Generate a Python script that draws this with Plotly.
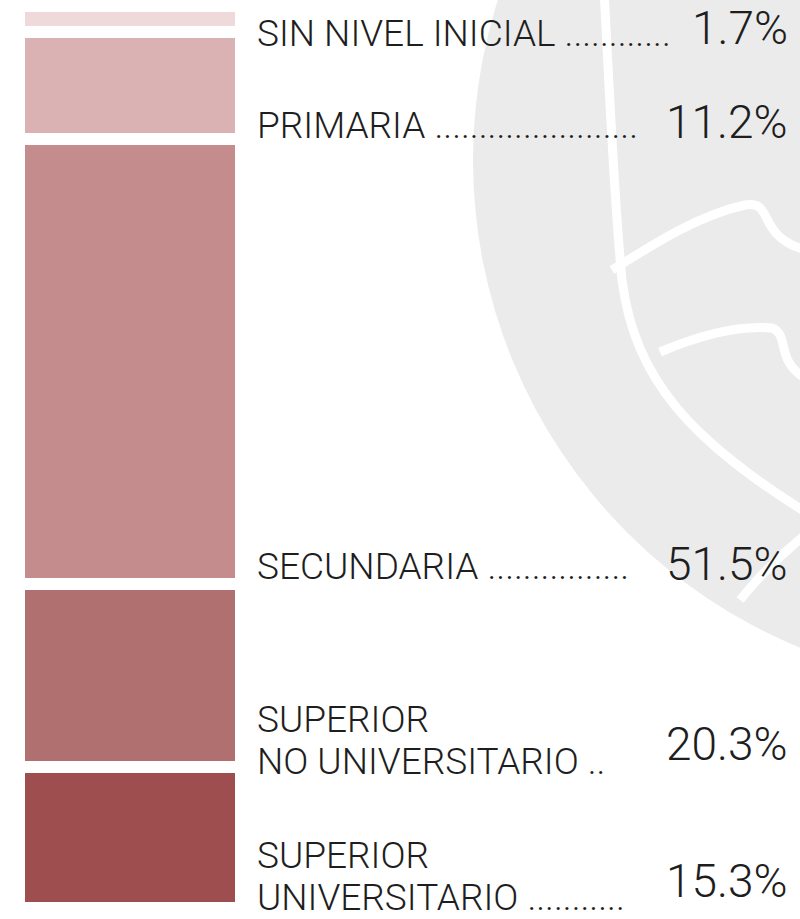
import plotly.graph_objects as go

# Nivel educativo alcanzado (porcentaje)
niveles = ["SIN NIVEL INICIAL", "PRIMARIA", "SECUNDARIA",
           "SUPERIOR<br>NO UNIVERSITARIO", "SUPERIOR<br>UNIVERSITARIO"]
porcentajes = [1.7, 11.2, 51.5, 20.3, 15.3]
puntos = [12, 23, 16, 2, 11]          # leader dots after each label
colores = ["#efd9da", "#dab2b3", "#c48c8c", "#b0706f", "#9e4e4f"]

W, H = 800, 919
L, R, T, B = 25, 565, 12, 17
GAP_PX = 12
LINE_PX = 42
plot_h = H - T - B
unit = (plot_h - GAP_PX * (len(porcentajes) - 1)) / sum(porcentajes)
gap = GAP_PX / unit
total = sum(porcentajes) + gap * (len(porcentajes) - 1)

bases, acc = [], 0.0
for v in porcentajes:
    bases.append(acc)
    acc += v + gap


def px(x):
    return (x - L) / (W - L - R)


def py(y):
    return (H - B - y) / plot_h


fig = go.Figure()
fig.add_trace(go.Bar(
    x=[0] * len(porcentajes), y=porcentajes, base=bases, width=1,
    marker=dict(color=colores, line=dict(width=0)),
    hoverinfo="skip", showlegend=False,
))

# faint seal in the background
SEAL_CX, SEAL_CY, SEAL_R = 1000, 160, 527
shapes = [
    dict(type="circle", xref="paper", yref="paper", layer="below",
         x0=px(SEAL_CX - SEAL_R), x1=px(SEAL_CX + SEAL_R),
         y0=py(SEAL_CY + SEAL_R), y1=py(SEAL_CY - SEAL_R),
         fillcolor="#ebebeb", line=dict(width=0)),
]


def path(pts):
    (x0, y0), rest = pts[0], pts[1:]
    d = f"M {px(x0)},{py(y0)}"
    for i in range(0, len(rest), 3):
        (a, b), (c, e), (f, g) = rest[i:i + 3]
        d += f" C {px(a)},{py(b)} {px(c)},{py(e)} {px(f)},{py(g)}"
    return d


white_lines = [
    [(604, -10), (610, 100), (614, 200), (622, 280),
     (635, 380), (690, 440), (810, 515)],
    [(612, 270), (660, 240), (700, 215), (745, 205),
     (775, 200), (755, 235), (805, 250)],
    [(660, 352), (700, 335), (740, 325), (772, 328),
     (790, 335), (775, 360), (805, 378)],
    [(740, 600), (760, 575), (780, 555), (805, 535)],
]
for pts in white_lines:
    shapes.append(dict(type="path", xref="paper", yref="paper", layer="below",
                       path=path(pts), line=dict(color="white", width=9)))

label_font = dict(family="Roboto, 'Open Sans', sans-serif", size=37,
                  color="#1e1e1e", weight=300)
value_font = dict(family="Roboto, 'Open Sans', sans-serif", size=46,
                  color="#1e1e1e", weight=300)

# vertical offsets (px, downward) of each text's centre from its segment's end
label_off = [7.5, -7.5, -12, -21, -26]
value_off = [1.5, -11, -14, -17.5, -21]

annotations = []
for i, (name, v) in enumerate(zip(niveles, porcentajes)):
    y_end = bases[i] + v
    lines = name.split("<br>")
    lines[-1] += " " + "." * puntos[i]
    n = len(lines)
    for j, line in enumerate(lines):
        off = label_off[i] + (j - (n - 1) / 2) * LINE_PX
        annotations.append(dict(
            x=px(256), xref="paper", y=y_end, yref="y", xanchor="left",
            yanchor="middle", align="left", showarrow=False, borderpad=0,
            text=line, font=label_font, yshift=-off))
    annotations.append(dict(
        x=px(789), xref="paper", y=y_end, yref="y", xanchor="right",
        yanchor="middle", showarrow=False, borderpad=0,
        text=f"{v:.1f}%", font=value_font, yshift=-value_off[i]))

fig.update_layout(
    width=W, height=H,
    margin=dict(l=L, r=R, t=T, b=B, pad=0),
    paper_bgcolor="white", plot_bgcolor="rgba(0,0,0,0)",
    barmode="overlay", bargap=0,
    xaxis=dict(range=[-0.5, 0.5], visible=False, fixedrange=True),
    yaxis=dict(range=[total, 0], visible=False, fixedrange=True),
    shapes=shapes, annotations=annotations,
)

fig.write_html("out.html", include_plotlyjs=True, config={"displayModeBar": False})
